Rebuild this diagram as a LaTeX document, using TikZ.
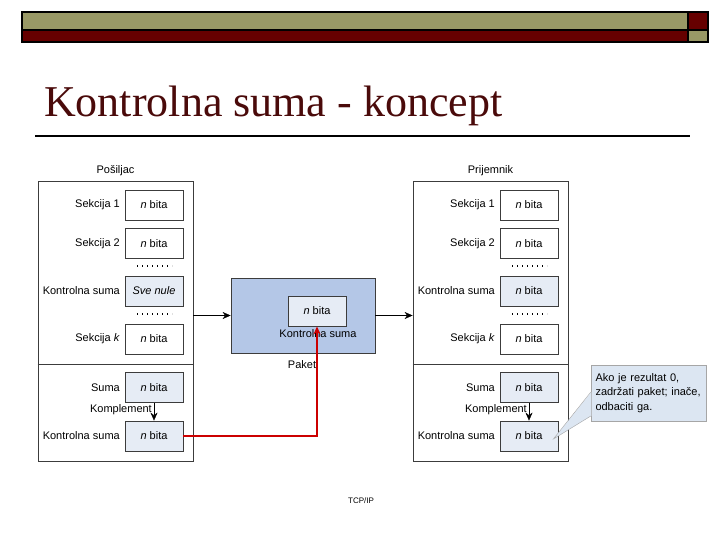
\documentclass[tikz,border=0pt]{standalone}
\usepackage{fontspec}
\setmainfont{Liberation Sans}
\newfontfamily\titlefont{Liberation Serif}
\usetikzlibrary{arrows.meta,positioning,calc}
\definecolor{olivebar}{HTML}{999966}
\definecolor{maroonbar}{HTML}{660000}
\definecolor{titlered}{HTML}{4A0A0A}
\definecolor{softblue}{HTML}{E6ECF5}
\definecolor{paketblue}{HTML}{B4C7E7}
\definecolor{noteblue}{HTML}{DCE6F2}
\definecolor{edgegray}{HTML}{3C3C3C}
\definecolor{arrowred}{HTML}{CC0000}

\begin{document}
\begin{tikzpicture}[x=1pt,y=-1pt,
  panel/.style={draw=edgegray,line width=0.8pt,minimum width=155pt,minimum height=280pt,inner sep=0pt},
  bitbox/.style={draw=edgegray,line width=0.8pt,minimum width=58pt,minimum height=30pt,inner sep=0pt,font=\fontsize{11}{13}\selectfont},
  lbl/.style={font=\fontsize{11}{13}\selectfont,inner sep=0pt},
  >={Stealth[length=8pt,width=7pt]}]
  \useasboundingbox (0,0) rectangle (720,540);
  % header bars
  \draw[fill=olivebar,line width=1.5pt] (22,12) rectangle (688,30);
  \draw[fill=maroonbar,line width=1.5pt] (688,12) rectangle (708,30);
  \draw[fill=maroonbar,line width=1.5pt] (22,30) rectangle (688,42);
  \draw[fill=olivebar,line width=1.5pt] (688,30) rectangle (708,42);
  \node[anchor=base west,inner sep=0pt,font=\titlefont\fontsize{44}{48}\selectfont,text=titlered] (title) at (44,117) {Kontrolna suma - koncept};
  \draw[line width=2pt] (35,136) -- (690,136);
  % sender and receiver
  \foreach \px/\pn/\pl/\ck in {0/l/Pošiljac/{\textit{Sve nule}},375/r/Prijemnik/{\textit{n} bita}} {
    \node[panel] (\pn p) at (115.5+\px,321) {};
    \node[lbl] at (115.5+\px,171) {\pl};
    \draw[edgegray,line width=0.8pt] (\pn p.west |- 0,364) -- (\pn p.east |- 0,364);
    \foreach \y/\n/\t/\f in {205/s1/Sekcija 1/white,243.5/s2/Sekcija 2/white,
        339/sk/{Sekcija \textit{k}}/white,387.5/sm/Suma/softblue,436/kb/Kontrolna suma/softblue} {
      \node[bitbox,fill=\f] (\pn-\n) at (154+\px,\y) {\textit{n} bita};
      \node[lbl,anchor=east] at (120+\px,\y) {\t};
    }
    \node[bitbox,fill=softblue] (\pn-ck) at (154+\px,291) {\ck};
    \node[lbl,anchor=east] at (120+\px,291) {Kontrolna suma};
    \foreach \y in {266,314}
      \draw[line width=1.1pt,dash pattern=on 1.1pt off 3.9pt] (137+\px,\y) -- (172+\px,\y);
    \draw[->] (\pn-sm.south) -- (\pn-kb.north);
    \node[lbl,anchor=east] at (152+\px,410) {Komplement};
  }
  % packet
  \node[draw=edgegray,line width=0.8pt,fill=paketblue,minimum width=144pt,minimum height=75pt] (pk) at (303,315.5) {};
  \node[bitbox,fill=softblue] (pin) at (317,311) {\textit{n} bita};
  \node[lbl] at (318,334) {Kontrolna suma};
  \node[lbl] at (302,365) {Paket};
  \draw[->] (lp.east |- pk.west) -- (pk.west);
  \draw[->] (pk.east) -- (rp.west |- pk.east);
  \draw[arrowred,line width=2.2pt,-{Stealth[length=8pt,width=7pt]}] (l-kb.east) -| (pin.south);
  % note
  \node[draw=gray!70,fill=noteblue,minimum width=115pt,minimum height=56pt,text width=106pt,align=left,
    font=\fontsize{11}{14.5}\selectfont] (nt) at (648.5,393)
    {Ako je rezultat 0,\\zadržati paket; inače,\\odbaciti ga.};
  \coordinate (tip) at ($(r-kb.east)+(-5,3)$);
  \fill[noteblue] ($(nt.west |- 0,392)+(0.5,0)$) -- (tip) -- ($(nt.west |- 0,416)+(0.5,0)$) -- cycle;
  \draw[gray!70] (nt.west |- 0,392) -- (tip) -- (nt.west |- 0,416);
  \node[lbl,font=\fontsize{8}{9}\selectfont] (src) at (361,501) {TCP/IP};
\end{tikzpicture}
\end{document}
